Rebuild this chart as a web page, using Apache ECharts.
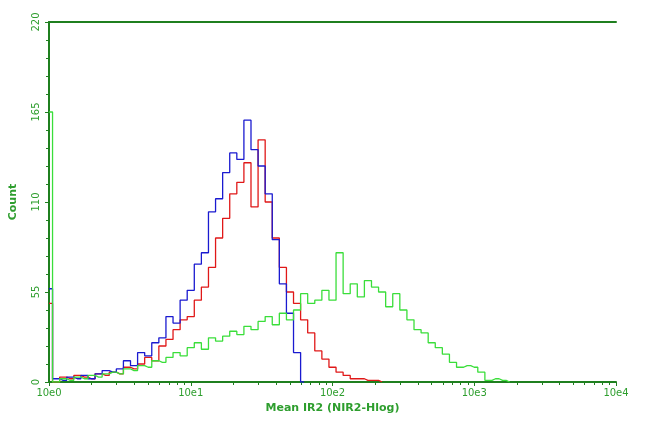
<!DOCTYPE html>
<html><head><meta charset="utf-8">
<script src="https://cdn.jsdelivr.net/npm/echarts@6/dist/echarts.min.js"></script>
<style>html,body{margin:0;background:#fff}#c{width:650px;height:434px}</style>
</head><body><div id="c"></div>
<script>
// bins every 0.05 decade from 10^0 to 10^4
var binStep = 0.05;
var xTickLabels = ['10e0','10e1','10e2','10e3','10e4'];
var yTicks = [0,55,110,165,220];
var blue = [57,2,1,3,2,4,2,5,7,6,8,13,10,18,16,24,27,40,36,50,56,72,79,104,112,128,140,136,160,142,132,115,87,60,42,18,0];
var red = [48,0,3,2,4,3,2,5,4,6,5,9,8,11,15,13,22,26,32,38,40,50,58,70,88,100,115,122,134,107,148,110,88,70,55,48,38,30,19,14,9,6,4,2,2,1,1,0];
var green = [165,0,2,1,3,2,4,3,5,6,5,8,7,10,9,13,12,15,18,16,21,24,20,27,25,28,31,29,34,32,37,40,35,42,38,44,54,48,50,56,50,79,54,60,52,62,58,55,46,54,44,38,32,30,24,21,17,12,9,10,9,6,1,2,1,0];
function pts(arr){return arr.map(function(v,i){return [Math.pow(10,i*binStep), v];});}
var G='#2e9e2e', L='#1f7f1f';
var chart = echarts.init(document.getElementById('c'));
chart.setOption({
  animation:false,
  grid:{left:44,right:34,top:22,bottom:52},
  xAxis:[{type:'log',logBase:10,min:1,max:10000,
    name:'Mean IR2 (NIR2-Hlog)',nameLocation:'middle',nameGap:19,
    nameTextStyle:{color:G,fontSize:11,fontWeight:'bold',fontFamily:'DejaVu Sans'},
    axisLine:{lineStyle:{color:L,width:2}},
    axisTick:{lineStyle:{color:L},length:4,inside:false},
    minorTick:{show:true,splitNumber:9,length:3,lineStyle:{color:L}},
    splitLine:{show:false},
    axisLabel:{color:G,fontSize:10,fontFamily:'DejaVu Sans',margin:6,
      formatter:function(v){var e=Math.round(Math.log10(v));return xTickLabels[e];}}},
   {type:'value',position:'top',min:0,max:1,axisLine:{show:true,lineStyle:{color:L,width:2}},
    axisTick:{show:false},axisLabel:{show:false},splitLine:{show:false}}],
  yAxis:{type:'value',min:0,max:220,interval:55,
    name:'Count',nameLocation:'middle',nameGap:30,nameRotate:90,
    nameTextStyle:{color:G,fontSize:11,fontWeight:'bold',fontFamily:'DejaVu Sans'},
    axisLine:{show:true,lineStyle:{color:L,width:2}},
    axisTick:{show:true,length:4,lineStyle:{color:L}},
    minorTick:{show:true,splitNumber:5,length:3,lineStyle:{color:L}},
    splitLine:{show:false},
    axisLabel:{color:G,fontSize:10,fontFamily:'DejaVu Sans',rotate:90,margin:8,
      formatter:function(v){return yTicks.indexOf(v)>=0?String(v):'';}}},
  series:[
    {type:'line',step:'middle',data:pts(red),showSymbol:false,lineStyle:{color:'#e01818',width:1.3},z:2},
    {type:'line',step:'middle',data:pts(blue),showSymbol:false,lineStyle:{color:'#1a1ad0',width:1.3},z:3},
    {type:'line',step:'middle',data:pts(green),showSymbol:false,lineStyle:{color:'#3ade3a',width:1.3},z:4}
  ]
});
</script></body></html>
